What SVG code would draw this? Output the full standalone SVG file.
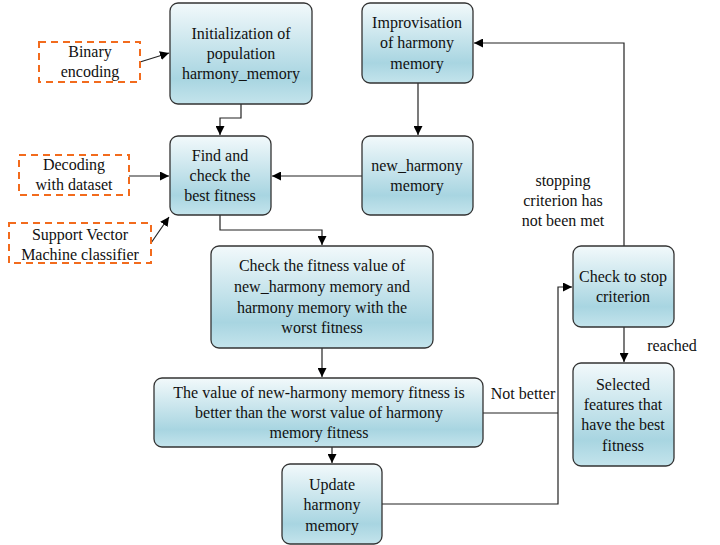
<svg xmlns="http://www.w3.org/2000/svg" width="720" height="545" viewBox="0 0 720 545" font-family="Liberation Serif, DejaVu Serif, serif" font-size="16">
<defs>
<linearGradient id="g" x1="0" y1="0" x2="0" y2="1">
<stop offset="0" stop-color="#f2f9fb"/>
<stop offset="0.75" stop-color="#a8d5e1"/>
<stop offset="1" stop-color="#c4e4ec"/>
</linearGradient>
<marker id="a" viewBox="0 0 10 10" refX="10" refY="5" markerWidth="9" markerHeight="9" markerUnits="userSpaceOnUse" orient="auto">
<path d="M0,0 L10,5 L0,10 z" fill="#000"/>
</marker>
</defs>
<style>
.n{fill:url(#g);stroke:#333;stroke-width:1.3}
.d{fill:#fff;stroke:#f26b1d;stroke-width:2;stroke-dasharray:7,5}
text{fill:#111;text-anchor:middle}
.c{fill:none;stroke:#222;stroke-width:1.2;marker-end:url(#a)}
.l{fill:none;stroke:#222;stroke-width:1.2}
</style>
<rect width="720" height="545" fill="#fff"/>
<g id="connectors">
<path class="c" d="M140,62 L169,53"/>
<path class="c" d="M241,104 V118 H220 V135"/>
<path class="c" d="M129,176 H169"/>
<path class="c" d="M151,243 L169,217"/>
<path class="c" d="M418,83 V135"/>
<path class="c" d="M362,176 H272"/>
<path class="c" d="M220,215 V230 H322 V245"/>
<path class="c" d="M322,348 V377"/>
<path class="c" d="M332,447 V463"/>
<path class="l" d="M483,413 H558"/>
<path class="c" d="M382,504 H558 V287 H572"/>
<path class="c" d="M624,246 V43 H474"/>
<path class="c" d="M624,327 V362"/>
<text x="523" y="399">Not better</text>
<text x="563" y="186">stopping</text>
<text x="563" y="206">criterion has</text>
<text x="563" y="226">not been met</text>
<text x="672" y="351">reached</text>
</g>
<g id="binary">
<rect class="d" x="39" y="42" width="101" height="40"/>
<text x="90" y="57">Binary</text>
<text x="90" y="77">encoding</text>
</g>
<g id="decoding">
<rect class="d" x="19" y="155" width="110" height="40"/>
<text x="74" y="170">Decoding</text>
<text x="74" y="190">with dataset</text>
</g>
<g id="svm">
<rect class="d" x="9" y="223" width="142" height="40"/>
<text x="80" y="240">Support Vector</text>
<text x="80" y="260">Machine classifier</text>
</g>
<g id="init">
<rect class="n" x="170" y="3" width="142" height="101" rx="8"/>
<text x="241" y="39">Initialization of</text>
<text x="241" y="59">population</text>
<text x="241" y="79">harmony_memory</text>
</g>
<g id="find">
<rect class="n" x="170" y="136" width="101" height="79" rx="8"/>
<text x="220" y="161">Find and</text>
<text x="220" y="181">check the</text>
<text x="220" y="201">best fitness</text>
</g>
<g id="improvisation">
<rect class="n" x="362" y="3" width="111" height="80" rx="8"/>
<text x="417" y="28">Improvisation</text>
<text x="417" y="48">of harmony</text>
<text x="417" y="69">memory</text>
</g>
<g id="new_harmony">
<rect class="n" x="362" y="136" width="111" height="79" rx="8"/>
<text x="417" y="171">new_harmony</text>
<text x="417" y="191">memory</text>
</g>
<g id="check_fitness">
<rect class="n" x="211" y="246" width="222" height="102" rx="8"/>
<text x="322" y="271">Check the fitness value of</text>
<text x="322" y="292">new_harmony memory and</text>
<text x="322" y="313">harmony memory with the</text>
<text x="322" y="333">worst fitness</text>
</g>
<g id="value">
<rect class="n" x="154" y="378" width="329" height="69" rx="8"/>
<text x="319" y="398">The value of new-harmony memory fitness is</text>
<text x="319" y="418">better than the worst value of harmony</text>
<text x="319" y="438">memory fitness</text>
</g>
<g id="update">
<rect class="n" x="282" y="464" width="100" height="80" rx="8"/>
<text x="332" y="490">Update</text>
<text x="332" y="510">harmony</text>
<text x="332" y="531">memory</text>
</g>
<g id="check_stop">
<rect class="n" x="573" y="246" width="101" height="81" rx="8"/>
<text x="623" y="282">Check to stop</text>
<text x="623" y="302">criterion</text>
</g>
<g id="selected">
<rect class="n" x="573" y="363" width="101" height="103" rx="8"/>
<text x="623" y="390">Selected</text>
<text x="623" y="410">features that</text>
<text x="623" y="430">have the best</text>
<text x="623" y="451">fitness</text>
</g>
</svg>
